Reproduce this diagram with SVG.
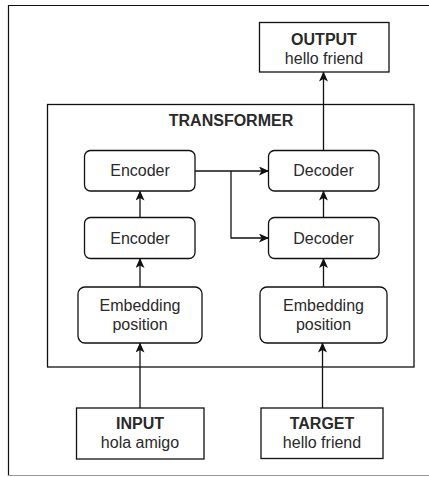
<svg xmlns="http://www.w3.org/2000/svg" width="429" height="477" viewBox="0 0 429 477">
<defs>
<marker id="ah" viewBox="0 0 10 10" refX="9.5" refY="5" markerWidth="10" markerHeight="9" markerUnits="userSpaceOnUse" orient="auto" preserveAspectRatio="none">
<path d="M0,0 L10,5 L0,10 L2.5,5 Z" fill="#111"/>
</marker>
<style>
.box{fill:#fff;stroke:#111;stroke-width:1.3}
.t{font-family:"Liberation Sans",Arial,sans-serif;font-size:16px;fill:#2a2a2a;text-anchor:middle}
.b{font-weight:bold}
.c{fill:none;stroke:#111;stroke-width:1.3;marker-end:url(#ah)}
</style>
</defs>
<rect x="0" y="0" width="429" height="477" fill="#fff"/>
<path d="M8.5,476 V5.5 H429" fill="none" stroke="#111" stroke-width="1.2"/>
<path d="M8,475.5 H429" fill="none" stroke="#999" stroke-width="1"/>
<g id="transformer">
<rect class="box" x="47.5" y="104.5" width="366.5" height="262.5"/>
<text class="t b" x="231" y="126">TRANSFORMER</text>
</g>
<g id="output">
<rect class="box" x="259.5" y="22.5" width="129.5" height="49.5"/>
<text class="t b" x="324" y="45">OUTPUT</text>
<text class="t" x="324" y="64">hello friend</text>
</g>
<g id="encoder1">
<rect class="box" x="84.5" y="150.5" width="110.5" height="40.5" rx="6"/>
<text class="t" x="140" y="176">Encoder</text>
</g>
<g id="encoder2">
<rect class="box" x="84.5" y="217.5" width="110.5" height="41" rx="6"/>
<text class="t" x="140" y="243.5">Encoder</text>
</g>
<g id="decoder1">
<rect class="box" x="268.5" y="150.5" width="110.5" height="40.5" rx="6"/>
<text class="t" x="323.5" y="176">Decoder</text>
</g>
<g id="decoder2">
<rect class="box" x="268.5" y="217.5" width="110.5" height="41" rx="6"/>
<text class="t" x="323.5" y="243.5">Decoder</text>
</g>
<g id="embedding1">
<rect class="box" x="78" y="287" width="124" height="56" rx="7"/>
<text class="t" x="140" y="311">Embedding</text>
<text class="t" x="140" y="330">position</text>
</g>
<g id="embedding2">
<rect class="box" x="260" y="287" width="127" height="56" rx="7"/>
<text class="t" x="323.5" y="311">Embedding</text>
<text class="t" x="323.5" y="330">position</text>
</g>
<g id="input">
<rect class="box" x="76.5" y="408" width="127.5" height="51"/>
<text class="t b" x="140" y="429">INPUT</text>
<text class="t" x="140" y="448">hola amigo</text>
</g>
<g id="target">
<rect class="box" x="261" y="408" width="122" height="50.5"/>
<text class="t b" x="322" y="429">TARGET</text>
<text class="t" x="322" y="448">hello friend</text>
</g>
<g id="connectors">
<path class="c" d="M140,408 V343"/>
<path class="c" d="M140,287 V258.5"/>
<path class="c" d="M140,217.5 V191"/>
<path class="c" d="M322.5,408 V343"/>
<path class="c" d="M323.5,287 V258.5"/>
<path class="c" d="M323.5,217.5 V191"/>
<path class="c" d="M323.5,150.5 V72"/>
<path class="c" d="M195,171 H268.5"/>
<path class="c" d="M231,171 V238 H268.5"/>
</g>
</svg>
